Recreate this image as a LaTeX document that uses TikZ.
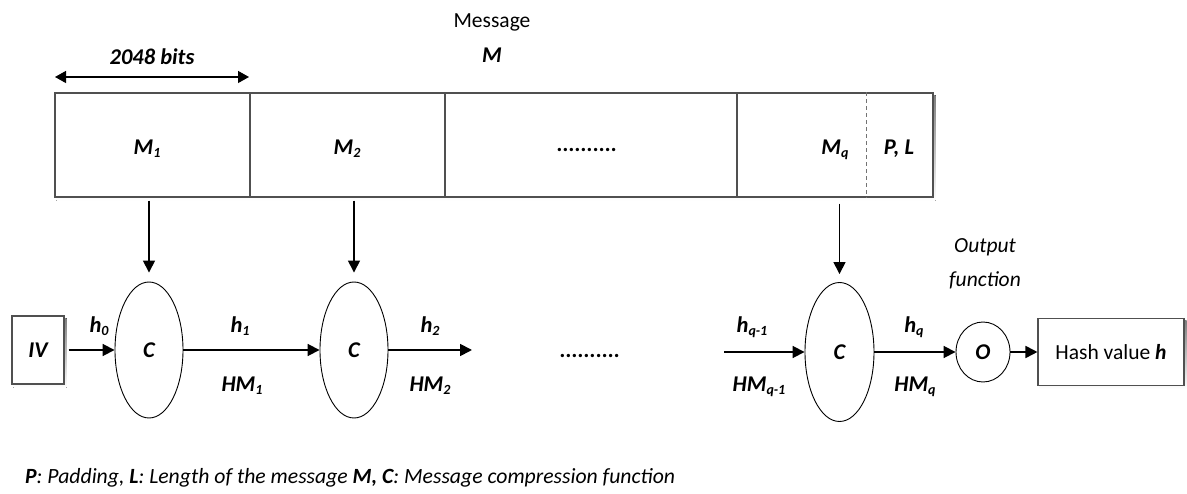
\documentclass[tikz,border=0pt]{standalone}
\usepackage{fontspec}
\setmainfont{Carlito}
\usetikzlibrary{arrows.meta,shapes.geometric,backgrounds}
\definecolor{shade}{RGB}{234,239,247}
\definecolor{frame}{RGB}{80,80,80}
% small lowered index used in block and chaining-value labels
\newcommand\sbs[1]{\raisebox{-0.25ex}{\fontsize{14}{14}\selectfont #1}}
\begin{document}
\begin{tikzpicture}[x=1pt,y=-1pt,
  every node/.style={inner sep=0pt, font=\fontsize{21.5}{25}\selectfont},
  lbl/.style={font=\fontsize{22.5}{26}\selectfont\bfseries\itshape},
  cell/.style={draw=frame, line width=1.1pt, minimum height=104pt},
  fn/.style={draw, ellipse, line width=0.9pt, lbl},
  plainbox/.style={draw=frame, line width=1.1pt},
  arr/.style={line width=1.8pt, -{Triangle[length=12pt,width=12pt]}},
  dnarr/.style={line width=1.5pt, -{Triangle[length=12pt,width=12pt]}},
  span/.style={line width=1.3pt, {Triangle[length=11pt,width=12pt]}-{Triangle[length=11pt,width=12pt]}}
]
\useasboundingbox (0,0) rectangle (1187,494);

% message title and block size
\node[anchor=base] (msg) at (492,28) {Message};
\node[lbl, anchor=base] (msgM) at (492,63) {M};
\node[lbl, anchor=base] (bits) at (152,65) {2048 bits};
\coordinate (spanL) at (55,77);
\coordinate (spanR) at (249,77);
\draw[span] (spanL) -- (spanR);

% padded message split into blocks
\node[cell, minimum width=195pt] (m1) at (152.5,145) {};
\node[cell, minimum width=195pt] (m2) at (347.5,145) {};
\node[cell, minimum width=292pt] (m3) at (591,145) {};
\node[cell, minimum width=196pt] (m4) at (835,145) {};
\coordinate (pad) at (866,145);
\draw[frame!80, line width=0.9pt, dashed, dash pattern=on 4pt off 3pt] (pad |- m4.north) -- (pad |- m4.south);

\node[lbl, anchor=base] (tM1) at (147,155) {M\sbs{1}};
\node[lbl, anchor=base] (tM2) at (347,155) {M\sbs{2}};
\node[lbl, anchor=base] (tdots) at (587,152) {..........};
\node[lbl, anchor=base] (tMq) at (835,155) {M\sbs{q}};
\node[lbl, anchor=base] (tPL) at (899,155) {P, L};

% compression chain
\node[plainbox, minimum width=52pt, minimum height=68pt, lbl] (iv) at (38,350) {IV};
\node[fn, minimum width=68pt, minimum height=136pt] (c1) at (149,350) {C};
\node[fn, minimum width=68pt, minimum height=136pt] (c2) at (354,350) {C};
\node[fn, minimum width=69pt, minimum height=139pt] (c3) at (839.5,352) {C};
\node[fn, minimum width=54pt, minimum height=60pt] (o) at (983,352) {O};
\node[plainbox, minimum width=146pt, minimum height=67pt] (hash) at (1111,352) {Hash value \textbf{\textit{h}}};

\node[anchor=base, font=\fontsize{21.5}{25}\selectfont\itshape] (out1) at (985,253) {Output};
\node[anchor=base, font=\fontsize{21.5}{25}\selectfont\itshape] (out2) at (985,287) {function};

% block inputs
\draw[dnarr, shorten <=3pt, shorten >=9pt] (c1 |- m1.south) -- (c1.north);
\draw[dnarr, shorten <=3pt, shorten >=9pt] (c2 |- m2.south) -- (c2.north);
\draw[dnarr, shorten <=6pt, shorten >=8pt] (c3 |- m4.south) -- (c3.north);

% chaining values
\coordinate (h2end) at (472,350);
\coordinate (hqstart) at (724,352);
\draw[arr, shorten <=4pt] (iv.east) -- (c1.west);
\draw[arr] (c1.east) -- (c2.west);
\draw[arr] (c2.east) -- (h2end);
\draw[arr] (hqstart) -- (c3.west);
\draw[arr] (c3.east) -- (o.west);
\draw[arr] (o.east) -- (o.east -| hash.west);

\node[lbl, anchor=base] (mdots) at (590,358) {..........};

\node[lbl, anchor=base] (h0) at (99,333) {h\sbs{0}};
\node[lbl, anchor=base] (h1) at (240,333) {h\sbs{1}};
\node[lbl, anchor=base] (hm1) at (242,392) {HM\sbs{1}};
\node[lbl, anchor=base] (h2) at (430,333) {h\sbs{2}};
\node[lbl, anchor=base] (hm2) at (430,392) {HM\sbs{2}};
\node[lbl, anchor=base] (hq1) at (752,333) {h\sbs{q-1}};
\node[lbl, anchor=base] (hmq1) at (759,392) {HM\sbs{q-1}};
\node[lbl, anchor=base] (hq) at (914,333) {h\sbs{q}};
\node[lbl, anchor=base] (hmq) at (915,392) {HM\sbs{q}};

% legend
\node[anchor=base west, font=\fontsize{21.7}{25}\selectfont\itshape] (legend) at (25,483)
  {\textbf{P}: Padding, \textbf{L}: Length of the message \textbf{M,} \textbf{C}: Message compression function};

% soft shadows behind the boxes
\begin{scope}[on background layer]
  \fill[shade] ([shift={(2,3)}]m1.north west) rectangle ([shift={(2,3)}]m4.south east);
  \fill[shade] ([shift={(2,3)}]iv.north west) rectangle ([shift={(2,3)}]iv.south east);
  \fill[shade] ([shift={(2,3)}]hash.north west) rectangle ([shift={(2,3)}]hash.south east);
  \fill[white] (m1.north west) rectangle (m4.south east);
  \fill[white] (iv.north west) rectangle (iv.south east);
  \fill[white] (hash.north west) rectangle (hash.south east);
\end{scope}
\end{tikzpicture}
\end{document}
